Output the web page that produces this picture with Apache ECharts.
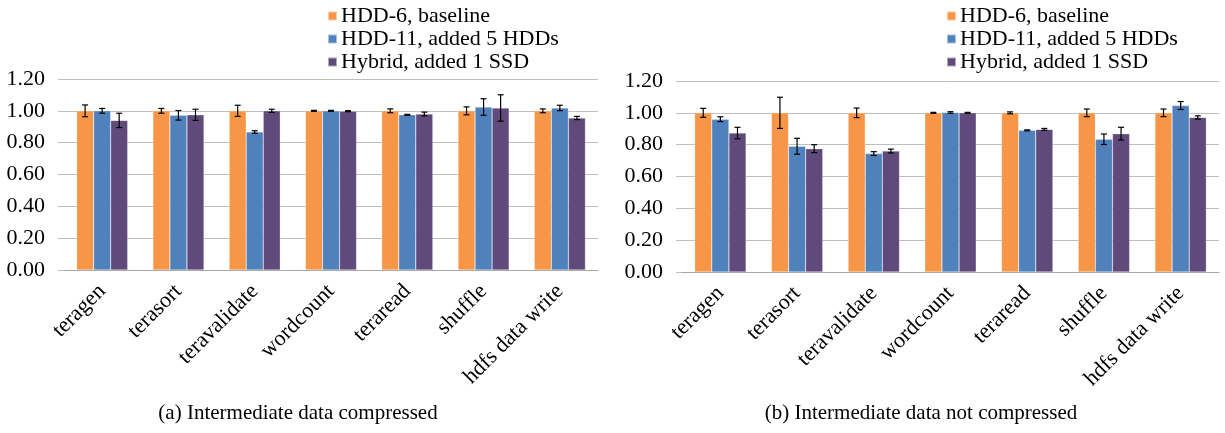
<!DOCTYPE html>
<html>
<head>
<meta charset="utf-8">
<script src="https://cdn.jsdelivr.net/npm/echarts@6/dist/echarts.min.js"></script>
<style>
  html, body { margin: 0; padding: 0; background: #fff; }
  #chart { width: 1225px; height: 433px; }
</style>
</head>
<body>
<div id="chart"></div>
<script>
const categories = ['teragen', 'terasort', 'teravalidate', 'wordcount', 'teraread', 'shuffle', 'hdfs data write'];
const seriesNames = ['HDD-6, baseline', 'HDD-11, added 5 HDDs', 'Hybrid, added 1 SSD'];
const yTicks = [0, 0.2, 0.4, 0.6, 0.8, 1.0, 1.2];

// (a) intermediate data compressed
const compBaseline = [1.00, 1.00, 1.00, 1.00, 1.00, 1.00, 1.00];
const compHdd11 = [1.00, 0.972, 0.867, 1.00, 0.975, 1.024, 1.018];
const compHybrid = [0.94, 0.975, 1.00, 0.998, 0.98, 1.018, 0.955];
const compBaselineErr = [0.037, 0.015, 0.035, 0.003, 0.012, 0.025, 0.012];
const compHdd11Err = [0.015, 0.03, 0.008, 0.003, 0.003, 0.052, 0.017];
const compHybridErr = [0.045, 0.035, 0.01, 0.003, 0.012, 0.083, 0.01];

// (b) intermediate data not compressed
const rawBaseline = [1.00, 1.00, 1.00, 1.00, 1.00, 1.00, 1.00];
const rawHdd11 = [0.96, 0.79, 0.744, 1.002, 0.89, 0.834, 1.046];
const rawHybrid = [0.873, 0.775, 0.76, 1.00, 0.896, 0.869, 0.971];
const rawBaselineErr = [0.028, 0.098, 0.03, 0.003, 0.006, 0.024, 0.024];
const rawHdd11Err = [0.015, 0.05, 0.012, 0.005, 0.003, 0.033, 0.025];
const rawHybridErr = [0.036, 0.025, 0.012, 0.003, 0.006, 0.04, 0.01];

const colors = ['#F79646', '#4F81BD', '#604A7B'];
const serif = "'Liberation Serif', 'Times New Roman', serif";

const chart = echarts.init(document.getElementById('chart'));

function errorBar(offset) {
  return (params, api) => {
    const idx = api.value(0);
    const v = api.value(1);
    const e = api.value(2);
    const hi = api.coord([idx, v + e]);
    const lo = api.coord([idx, v - e]);
    const barW = api.size([1, 0])[0] * 0.67 / 3;
    const x = hi[0] + offset * barW;
    const cap = 3;
    const style = { stroke: '#000', lineWidth: 1.2 };
    return {
      type: 'group',
      children: [
        { type: 'line', shape: { x1: x, y1: hi[1], x2: x, y2: lo[1] }, style },
        { type: 'line', shape: { x1: x - cap, y1: hi[1], x2: x + cap, y2: hi[1] }, style },
        { type: 'line', shape: { x1: x - cap, y1: lo[1], x2: x + cap, y2: lo[1] }, style },
      ],
    };
  };
}

function makeSeries(axisIndex, values, errs) {
  const out = [];
  values.forEach((vals, i) => {
    out.push({
      name: seriesNames[i],
      type: 'bar',
      xAxisIndex: axisIndex,
      yAxisIndex: axisIndex,
      barGap: '0%',
      barCategoryGap: '33%',
      data: vals,
      itemStyle: { color: colors[i], borderColor: 'rgba(255,255,255,0.5)', borderWidth: 0.5 },
    });
  });
  values.forEach((vals, i) => {
    out.push({
      type: 'custom',
      xAxisIndex: axisIndex,
      yAxisIndex: axisIndex,
      z: 5,
      renderItem: errorBar(i - 1),
      data: vals.map((v, k) => [k, v, errs[i][k]]),
    });
  });
  return out;
}

function xAxis(gridIndex) {
  return {
    type: 'category',
    gridIndex,
    data: categories,
    axisLine: { lineStyle: { color: '#A6A6A6' } },
    axisTick: { length: 6, lineStyle: { color: '#A6A6A6' } },
    axisLabel: { rotate: 45, interval: 0, margin: 18, color: '#000', fontFamily: serif, fontSize: 22 },
  };
}

function yAxis(gridIndex) {
  return {
    type: 'value',
    gridIndex,
    min: yTicks[0],
    max: yTicks[yTicks.length - 1],
    interval: 0.2,
    axisLine: { show: false },
    axisTick: { show: true, length: 6, lineStyle: { color: '#BFBFBF' } },
    splitLine: { lineStyle: { color: '#BFBFBF' } },
    axisLabel: { margin: 19, color: '#000', fontFamily: serif, fontSize: 22, formatter: (v) => v.toFixed(2) },
  };
}

function legend(left) {
  return {
    left,
    top: 5,
    orient: 'vertical',
    padding: 0,
    itemGap: 1,
    itemWidth: 9,
    itemHeight: 9,
    icon: 'rect',
    selectedMode: false,
    data: seriesNames,
    textStyle: { color: '#000', fontFamily: serif, fontSize: 22, padding: [0, 0, 0, -1] },
  };
}

chart.setOption({
  animation: false,
  backgroundColor: '#fff',
  legend: [legend(327), legend(946)],
  grid: [
    { left: 64, top: 79, width: 534, height: 191 },
    { left: 682, top: 81, width: 537, height: 191 },
  ],
  xAxis: [xAxis(0), xAxis(1)],
  yAxis: [yAxis(0), yAxis(1)],
  series: [
    ...makeSeries(0, [compBaseline, compHdd11, compHybrid], [compBaselineErr, compHdd11Err, compHybridErr]),
    ...makeSeries(1, [rawBaseline, rawHdd11, rawHybrid], [rawBaselineErr, rawHdd11Err, rawHybridErr]),
  ],
  graphic: [
    { type: 'text', x: 298, y: 413, style: { text: '(a) Intermediate data compressed', fontFamily: serif, fontSize: 21, fill: '#000', align: 'center', verticalAlign: 'middle' } },
    { type: 'text', x: 921, y: 413, style: { text: '(b) Intermediate data not compressed', fontFamily: serif, fontSize: 21, fill: '#000', align: 'center', verticalAlign: 'middle' } },
  ],
});
</script>
</body>
</html>
